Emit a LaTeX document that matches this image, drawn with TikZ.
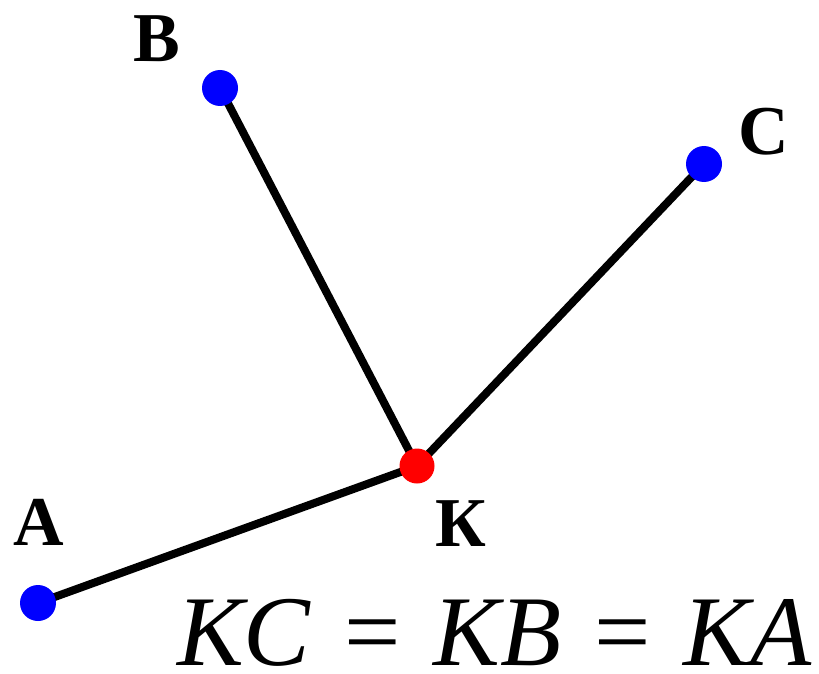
\documentclass[tikz,border=0pt]{standalone}
\usepackage{fontspec}
\setmainfont{Liberation Serif}
\begin{document}
\begin{tikzpicture}[x=1pt,y=-1pt,
  seg/.style={line width=8pt,black},
  bluedot/.style={circle,fill=blue,minimum size=36pt,inner sep=0pt},
  reddot/.style={circle,fill=red,minimum size=35pt,inner sep=0pt},
  lbl/.style={inner sep=0pt,anchor=base,font=\fontsize{70}{80}\selectfont\bfseries},
  eq/.style={inner sep=0pt,anchor=base east,text depth=0pt,font=\fontsize{100}{110}\selectfont}]
\useasboundingbox (0,0) rectangle (819,674);
\coordinate (pA) at (38,603);
\coordinate (pB) at (220,88);
\coordinate (pC) at (704,164);
\coordinate (pK) at (417,466);
\draw[seg] (pK) -- (pA);
\draw[seg] (pK) -- (pB);
\draw[seg] (pK) -- (pC);
\node[bluedot] (A) at (pA) {};
\node[bluedot] (B) at (pB) {};
\node[bluedot] (C) at (pC) {};
\node[reddot] (K) at (pK) {};
\node[lbl] (lA) at (39,545) {A};
\node[lbl] (lB) at (157,62) {B};
\node[lbl] (lC) at (764,154) {C};
\node[lbl] (lK) at (461,546) {К};
\node[eq] (eqn) at (812,665) {\textit{КC}\hspace{8pt} = \hspace{8pt}\textit{KB}\hspace{8pt} = \hspace{8pt}\textit{КA}};
\end{tikzpicture}
\end{document}
